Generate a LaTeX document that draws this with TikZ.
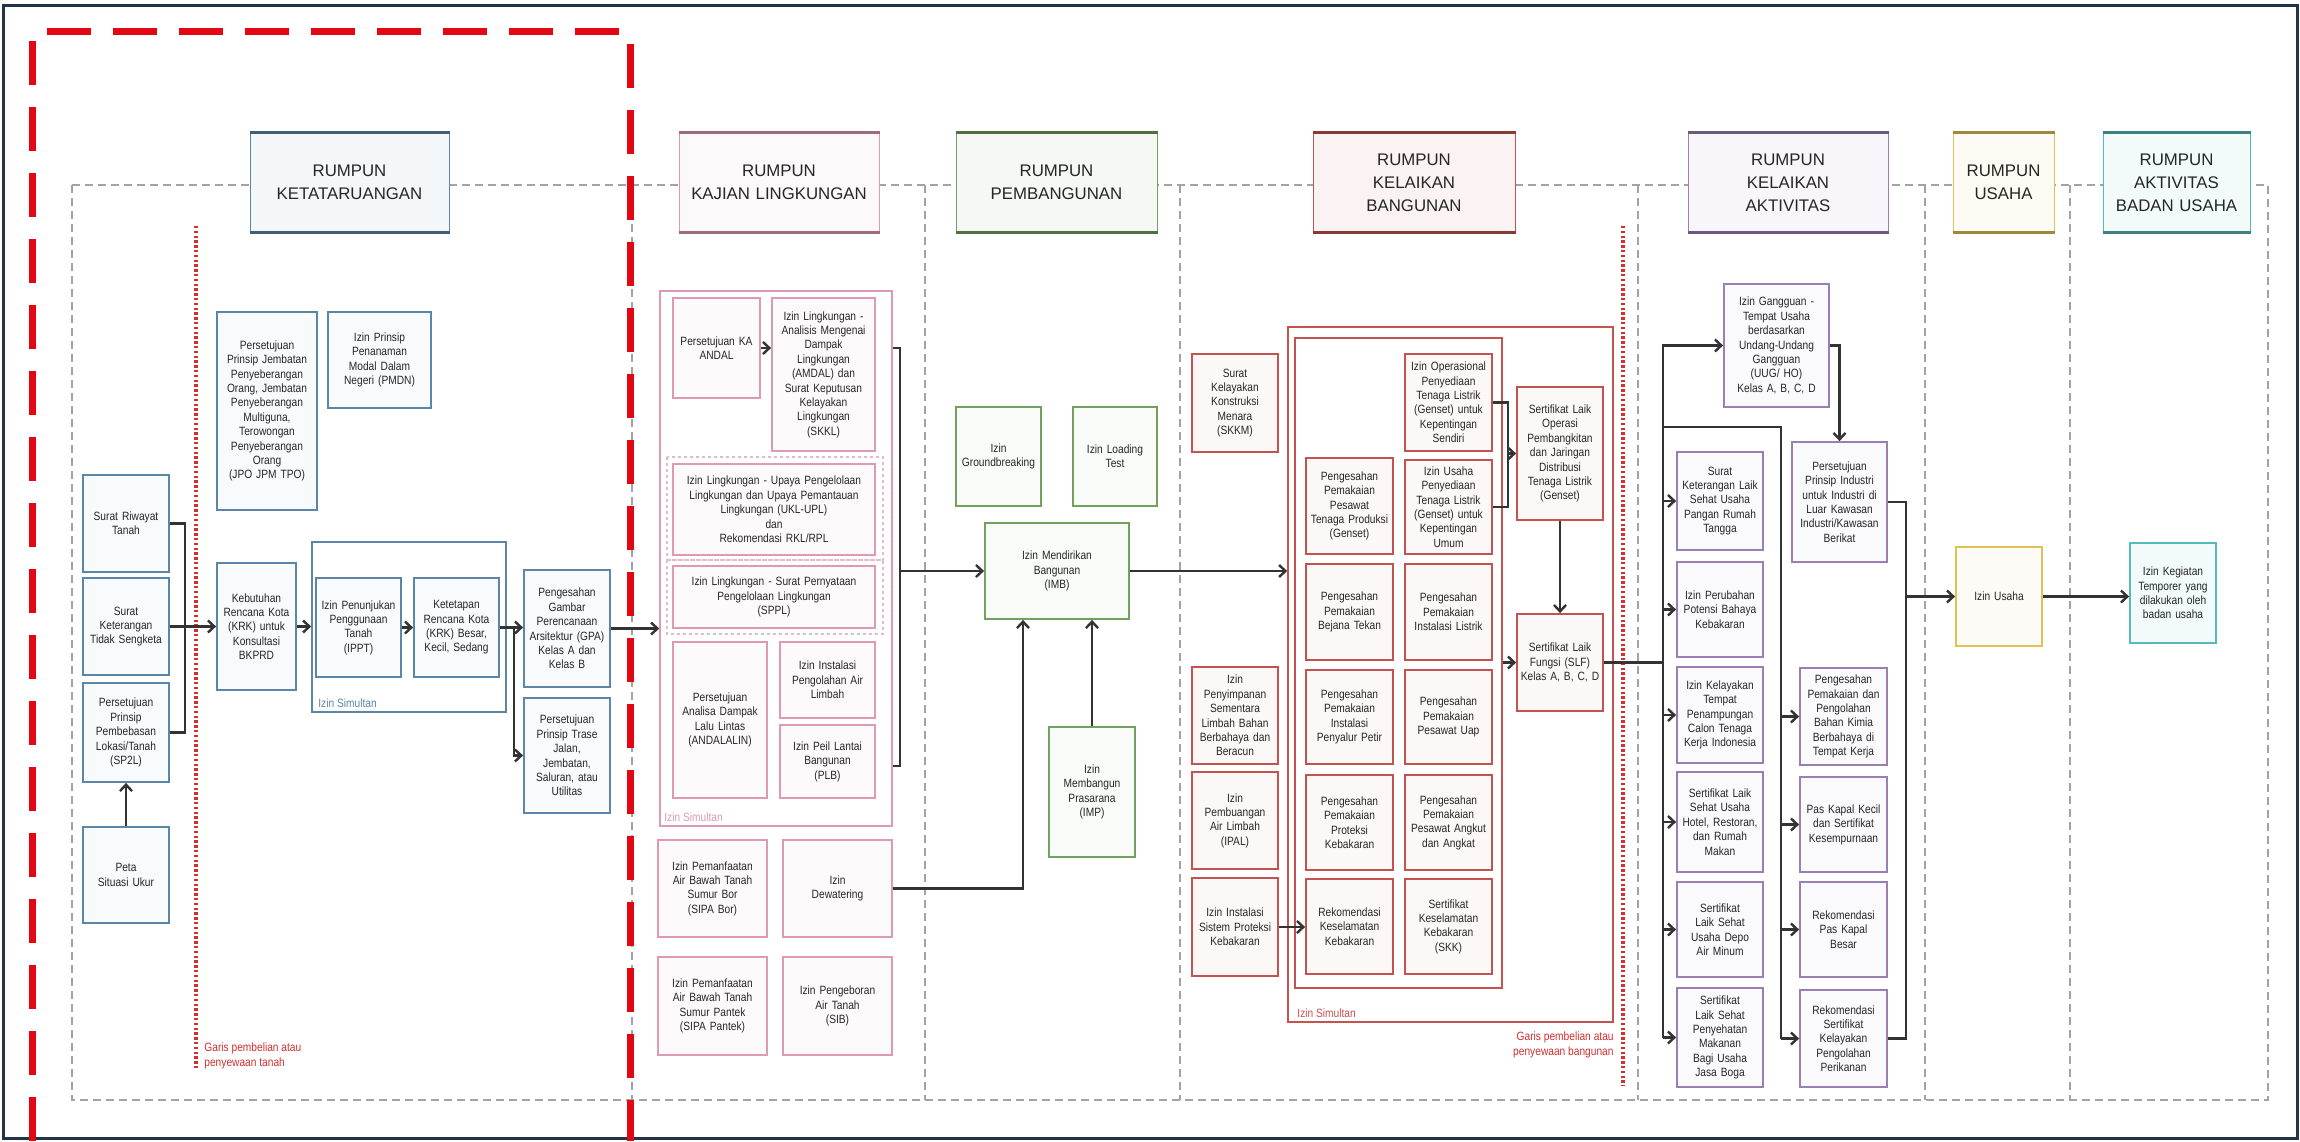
\documentclass[tikz,border=0pt]{standalone}
\usepackage{fontspec}
\setmainfont{Liberation Sans}
\newfontfamily\boxfont[FakeStretch=0.85]{Liberation Sans}
\usetikzlibrary{arrows.meta}

\definecolor{ketc}{HTML}{5B86A8}
\definecolor{kajc}{HTML}{DE9AB4}
\definecolor{pemc}{HTML}{72A05E}
\definecolor{banc}{HTML}{C4534F}
\definecolor{aktc}{HTML}{9A80B2}
\definecolor{usac}{HTML}{E2C256}
\definecolor{bdnc}{HTML}{55BABA}
\definecolor{framec}{HTML}{243447}
\definecolor{sepc}{HTML}{A3A3A3}
\definecolor{conc}{HTML}{333333}
\definecolor{dotc}{HTML}{D32F2F}
\definecolor{bigred}{HTML}{E30613}

% box with corner coordinates in pixel units: name, x1, y1, x2, y2, style, text
\newcommand\mkbox[7]{%
  \pgfmathsetmacro\mkbw{(#4-#2)*0.5}%
  \pgfmathsetmacro\mkbh{(#5-#3)*0.5}%
  \node[#6, minimum width=\mkbw pt, minimum height=\mkbh pt, text width=\mkbw pt]
    (#1) at ({(#2+#4)/2},{(#3+#5)/2}) {#7};}

% column header: name, x1, x2, colour, text
\newcommand\mkhdr[5]{%
  \pgfmathsetmacro\mkbw{(#3-#2)*0.5}%
  \node[hdr, draw=#4, fill=#4!7, minimum width=\mkbw pt, minimum height=49.5pt, text width=\mkbw pt]
    (#1) at ({(#2+#3)/2},182.5) {#5};
  \draw[line width=1.4pt, draw=#4!70!black] (#1.north west) -- (#1.north east)
        (#1.south west) -- (#1.south east);}

\tikzset{
  bx/.style={rectangle, line width=0.9pt, inner sep=0pt, align=center,
    font={\boxfont\fontsize{6}{7.2}\selectfont}, text=black!85},
  ket/.style={bx, draw=ketc, fill=ketc!4},
  kaj/.style={bx, draw=kajc, fill=kajc!5},
  pem/.style={bx, draw=pemc, fill=pemc!4},
  ban/.style={bx, draw=banc, fill=banc!4},
  akt/.style={bx, draw=aktc, fill=aktc!5},
  usa/.style={bx, draw=usac, fill=usac!6},
  bdn/.style={bx, draw=bdnc, fill=bdnc!7},
  grpket/.style={bx, draw=ketc, line width=0.8pt},
  grpkaj/.style={bx, draw=kajc, line width=0.8pt},
  grpban/.style={bx, draw=banc, line width=0.8pt},
  kajsub/.style={draw=kajc!70, line width=0.6pt, dash pattern=on 1.5pt off 1.5pt},
  hdr/.style={rectangle, line width=0.5pt, inner sep=0pt, align=center,
    font={\fontsize{8.4}{11.5}\selectfont}, text=black!85},
  con/.style={draw=conc, line width=1.2pt},
  arr/.style={con, -{Straight Barb[length=3.2pt,width=6pt]}},
  sep/.style={draw=sepc, line width=1.2pt, dash pattern=on 4pt off 2.5pt},
  rdot/.style={draw=dotc, line width=1.6pt, dash pattern=on 1.2pt off 1.2pt},
  rdash/.style={draw=bigred, line width=3.5pt, dash pattern=on 22pt off 11pt},
  glabel/.style={inner sep=0pt, font={\boxfont\fontsize{6}{7.2}\selectfont}},
  rlabel/.style={inner sep=0pt, text=dotc, font={\boxfont\fontsize{6}{7.4}\selectfont}}
}

\begin{document}
\begin{tikzpicture}[x=0.5pt, y=-0.5pt]
\useasboundingbox (0,0) rectangle (2300,1141);
\fill[white] (0,0) rectangle (2300,1141);
\draw[framec, line width=1.5pt] (3,5) rectangle (2297,1138);

% column separators
\draw[sep] (72,185) rectangle (2268,1100);
\foreach \sx in {632,925,1180,1638,1925,2070}
  \draw[sep] (\sx,185) -- (\sx,1100);

% purchase / lease lines
\draw[rdot] (196,226) -- (196,1068);
\draw[rdot] (1623,226) -- (1623,1086);
\node[rlabel, anchor=south west, align=left] (lbltanah) at (204,1069) {Garis pembelian atau\\penyewaan tanah};
\node[rlabel, anchor=south east, align=right] (lblbangunan) at (1614,1058) {Garis pembelian atau\\penyewaan bangunan};

% column headers
\mkhdr{hket}{250}{449}{ketc}{RUMPUN\\KETATARUANGAN}
\mkhdr{hkaj}{679}{879}{kajc}{RUMPUN\\KAJIAN LINGKUNGAN}
\mkhdr{hpem}{956}{1157}{pemc}{RUMPUN\\PEMBANGUNAN}
\mkhdr{hban}{1313}{1515}{banc}{RUMPUN\\KELAIKAN\\BANGUNAN}
\mkhdr{hakt}{1688}{1888}{aktc}{RUMPUN\\KELAIKAN\\AKTIVITAS}
\mkhdr{husa}{1953}{2054}{usac}{RUMPUN\\USAHA}
\mkhdr{hbdn}{2103}{2250}{bdnc}{RUMPUN\\AKTIVITAS\\BADAN USAHA}

% ---------- Rumpun Ketataruangan ----------
\mkbox{simket}{312}{542}{506}{712}{grpket}{}
\node[glabel, text=ketc, anchor=south west] (simketlbl) at (318,708) {Izin Simultan};
\mkbox{riwayat}{83}{475}{169}{572}{ket}{Surat Riwayat\\Tanah}
\mkbox{keterangan}{83}{578}{169}{675}{ket}{Surat\\Keterangan\\Tidak Sengketa}
\mkbox{sptl}{83}{683}{169}{782}{ket}{Persetujuan\\Prinsip\\Pembebasan\\Lokasi/Tanah\\(SP2L)}
\mkbox{peta}{83}{827}{169}{923}{ket}{Peta\\Situasi Ukur}
\mkbox{jpo}{217}{312}{317}{510}{ket}{Persetujuan\\Prinsip Jembatan\\Penyeberangan\\Orang, Jembatan\\Penyeberangan\\Multiguna,\\Terowongan\\Penyeberangan\\Orang\\(JPO JPM TPO)}
\mkbox{pmdn}{328}{312}{431}{408}{ket}{Izin Prinsip\\Penanaman\\Modal Dalam\\Negeri (PMDN)}
\mkbox{krkb}{217}{563}{296}{690}{ket}{Kebutuhan\\Rencana Kota\\(KRK) untuk\\Konsultasi\\BKPRD}
\mkbox{ippt}{316}{578}{401}{677}{ket}{Izin Penunjukan\\Penggunaan\\Tanah\\(IPPT)}
\mkbox{krkt}{414}{578}{499}{677}{ket}{Ketetapan\\Rencana Kota\\(KRK) Besar,\\Kecil, Sedang}
\mkbox{gpa}{524}{570}{610}{687}{ket}{Pengesahan\\Gambar\\Perencanaan\\Arsitektur (GPA)\\Kelas A dan\\Kelas B}
\mkbox{trase}{524}{698}{610}{813}{ket}{Persetujuan\\Prinsip Trase\\Jalan,\\Jembatan,\\Saluran, atau\\Utilitas}

% ---------- Rumpun Kajian Lingkungan ----------
\mkbox{kajg}{660}{291}{892}{826}{grpkaj}{}
\draw[kajsub] (667,457) rectangle (883,560);
\draw[kajsub] (667,560) rectangle (883,634);
\node[glabel, text=kajc, anchor=south west] (kajglbl) at (664,822) {Izin Simultan};
\mkbox{andal}{673}{298}{760}{398}{kaj}{Persetujuan KA\\ANDAL}
\mkbox{amdal}{772}{298}{875}{451}{kaj}{Izin Lingkungan -\\Analisis Mengenai\\Dampak\\Lingkungan\\(AMDAL) dan\\Surat Keputusan\\Kelayakan\\Lingkungan\\(SKKL)}
\mkbox{ukl}{673}{464}{875}{555}{kaj}{Izin Lingkungan - Upaya Pengelolaan\\Lingkungan dan Upaya Pemantauan\\Lingkungan (UKL-UPL)\\dan\\Rekomendasi RKL/RPL}
\mkbox{sppl}{673}{566}{875}{628}{kaj}{Izin Lingkungan - Surat Pernyataan\\Pengelolaan Lingkungan\\(SPPL)}
\mkbox{andalalin}{673}{642}{767}{798}{kaj}{Persetujuan\\Analisa Dampak\\Lalu Lintas\\(ANDALALIN)}
\mkbox{ipalk}{780}{642}{875}{718}{kaj}{Izin Instalasi\\Pengolahan Air\\Limbah}
\mkbox{plb}{780}{725}{875}{798}{kaj}{Izin Peil Lantai\\Bangunan\\(PLB)}
\mkbox{sipab}{658}{840}{767}{937}{kaj}{Izin Pemanfaatan\\Air Bawah Tanah\\Sumur Bor\\(SIPA Bor)}
\mkbox{dewat}{783}{840}{892}{937}{kaj}{Izin\\Dewatering}
\mkbox{sipap}{658}{957}{767}{1055}{kaj}{Izin Pemanfaatan\\Air Bawah Tanah\\Sumur Pantek\\(SIPA Pantek)}
\mkbox{sib}{783}{957}{892}{1055}{kaj}{Izin Pengeboran\\Air Tanah\\(SIB)}

% ---------- Rumpun Pembangunan ----------
\mkbox{ground}{956}{407}{1041}{506}{pem}{Izin\\Groundbreaking}
\mkbox{loadt}{1073}{407}{1157}{506}{pem}{Izin Loading\\Test}
\mkbox{imb}{985}{523}{1129}{619}{pem}{Izin Mendirikan\\Bangunan\\(IMB)}
\mkbox{imp}{1049}{727}{1135}{857}{pem}{Izin\\Membangun\\Prasarana\\(IMP)}

% ---------- Rumpun Kelaikan Bangunan ----------
\mkbox{bango}{1288}{327}{1613}{1022}{grpban}{}
\mkbox{bangi}{1295}{338}{1502}{988}{grpban}{}
\node[glabel, text=banc, anchor=south west] (bangolbl) at (1297,1018) {Izin Simultan};
\mkbox{skkm}{1192}{354}{1278}{452}{ban}{Surat\\Kelayakan\\Konstruksi\\Menara\\(SKKM)}
\mkbox{bthree}{1192}{667}{1278}{764}{ban}{Izin\\Penyimpanan\\Sementara\\Limbah Bahan\\Berbahaya dan\\Beracun}
\mkbox{ipal}{1192}{772}{1278}{869}{ban}{Izin\\Pembuangan\\Air Limbah\\(IPAL)}
\mkbox{ispk}{1192}{878}{1278}{976}{ban}{Izin Instalasi\\Sistem Proteksi\\Kebakaran}
\mkbox{genset}{1306}{458}{1393}{554}{ban}{Pengesahan\\Pemakaian\\Pesawat\\Tenaga Produksi\\(Genset)}
\mkbox{bejana}{1306}{564}{1393}{660}{ban}{Pengesahan\\Pemakaian\\Bejana Tekan}
\mkbox{petir}{1306}{670}{1393}{764}{ban}{Pengesahan\\Pemakaian\\Instalasi\\Penyalur Petir}
\mkbox{proteksi}{1306}{775}{1393}{870}{ban}{Pengesahan\\Pemakaian\\Proteksi\\Kebakaran}
\mkbox{rekkk}{1306}{879}{1393}{974}{ban}{Rekomendasi\\Keselamatan\\Kebakaran}
\mkbox{iop}{1405}{354}{1492}{451}{ban}{Izin Operasional\\Penyediaan\\Tenaga Listrik\\(Genset) untuk\\Kepentingan\\Sendiri}
\mkbox{ius}{1405}{460}{1492}{554}{ban}{Izin Usaha\\Penyediaan\\Tenaga Listrik\\(Genset) untuk\\Kepentingan\\Umum}
\mkbox{listrik}{1405}{564}{1492}{660}{ban}{Pengesahan\\Pemakaian\\Instalasi Listrik}
\mkbox{uap}{1405}{670}{1492}{764}{ban}{Pengesahan\\Pemakaian\\Pesawat Uap}
\mkbox{angkut}{1405}{775}{1492}{870}{ban}{Pengesahan\\Pemakaian\\Pesawat Angkut\\dan Angkat}
\mkbox{skk}{1405}{879}{1492}{974}{ban}{Sertifikat\\Keselamatan\\Kebakaran\\(SKK)}
\mkbox{slo}{1517}{387}{1603}{520}{ban}{Sertifikat Laik\\Operasi\\Pembangkitan\\dan Jaringan\\Distribusi\\Tenaga Listrik\\(Genset)}
\mkbox{slf}{1517}{614}{1603}{711}{ban}{Sertifikat Laik\\Fungsi (SLF)\\Kelas A, B, C, D}

% ---------- Rumpun Kelaikan Aktivitas ----------
\mkbox{gangguan}{1724}{284}{1829}{407}{akt}{Izin Gangguan -\\Tempat Usaha\\berdasarkan\\Undang-Undang\\Gangguan\\(UUG/ HO)\\Kelas A, B, C, D}
\mkbox{ppi}{1792}{442}{1887}{562}{akt}{Persetujuan\\Prinsip Industri\\untuk Industri di\\Luar Kawasan\\Industri/Kawasan\\Berikat}
\mkbox{skl}{1677}{452}{1763}{550}{akt}{Surat\\Keterangan Laik\\Sehat Usaha\\Pangan Rumah\\Tangga}
\mkbox{ippbk}{1677}{562}{1763}{657}{akt}{Izin Perubahan\\Potensi Bahaya\\Kebakaran}
\mkbox{tpc}{1677}{667}{1763}{763}{akt}{Izin Kelayakan\\Tempat\\Penampungan\\Calon Tenaga\\Kerja Indonesia}
\mkbox{hotel}{1677}{772}{1763}{872}{akt}{Sertifikat Laik\\Sehat Usaha\\Hotel, Restoran,\\dan Rumah\\Makan}
\mkbox{depo}{1677}{882}{1763}{977}{akt}{Sertifikat\\Laik Sehat\\Usaha Depo\\Air Minum}
\mkbox{boga}{1677}{988}{1763}{1087}{akt}{Sertifikat\\Laik Sehat\\Penyehatan\\Makanan\\Bagi Usaha\\Jasa Boga}
\mkbox{bkb}{1800}{668}{1887}{765}{akt}{Pengesahan\\Pemakaian dan\\Pengolahan\\Bahan Kimia\\Berbahaya di\\Tempat Kerja}
\mkbox{pkk}{1800}{777}{1887}{872}{akt}{Pas Kapal Kecil\\dan Sertifikat\\Kesempurnaan}
\mkbox{rpkb}{1800}{882}{1887}{977}{akt}{Rekomendasi\\Pas Kapal\\Besar}
\mkbox{rskpp}{1800}{990}{1887}{1087}{akt}{Rekomendasi\\Sertifikat\\Kelayakan\\Pengolahan\\Perikanan}

% ---------- Rumpun Usaha / Aktivitas Badan Usaha ----------
\mkbox{usaha}{1956}{547}{2042}{646}{usa}{Izin Usaha}
\mkbox{kegiatan}{2130}{543}{2216}{643}{bdn}{Izin Kegiatan\\Temporer yang\\dilakukan oleh\\badan usaha}

% ---------- connectors ----------
% land documents
\coordinate (rbT) at (185,523.5);
\coordinate (rbB) at (185,732.5);
\draw[con] (riwayat.east) -- (rbT) -- (rbB) -- (sptl.east);
\draw[arr] (keterangan.east) -- (krkb.west);
\draw[arr] (peta.north) -- (sptl.south);
\draw[arr] (krkb.east) -- (krkb.east -| simket.west);
\draw[arr] (ippt.east) -- (krkt.west);
\draw[arr] (krkt.east) -- (gpa.west |- krkt.east);
\coordinate (tbr) at (514,627.5);
\draw[arr] (tbr) |- (trase.west);
\draw[arr] (gpa.east) -- (gpa.east -| kajg.west);

% environment
\draw[arr] (andal.east) -- (andal.east -| amdal.west);
\coordinate (kbT) at (900,348);
\coordinate (kbB) at (900,766);
\draw[con] (kajg.east |- kbT) -- (kbT) -- (kbB) -- (kajg.east |- kbB);
\draw[arr] (imb.west -| kbT) -- (imb.west);
\draw[arr] (dewat.east) -| ([xshift=-17pt]imb.south);

% construction
\draw[arr] (imp.north) -- (imp.north |- imb.south);
\draw[arr] (imb.east) -- (imb.east -| bango.west);

% building feasibility
\coordinate (sbT) at (1508,402.5);
\coordinate (sbB) at (1508,507);
\draw[con] (iop.east) -- (sbT) -- (sbB) -- (ius.east);
\draw[arr] (slo.west -| sbT) -- (slo.west);
\draw[arr] (slo.south) -- (slf.north);
\draw[arr] (slf.west -| bangi.east) -- (slf.west);
\draw[arr] (ispk.east) -- (ispk.east -| rekkk.west);

% activity feasibility
\coordinate (aBot) at (1663,1037.5);
\draw[con] (slf.east) -- (slf.east -| aBot);
\draw[arr] (aBot) |- (gangguan.west);
\foreach \n in {skl,ippbk,tpc,hotel,depo,boga}
  \draw[arr] (\n.west -| aBot) -- (\n.west);
\coordinate (bJ) at (1663,427);
\coordinate (bBot) at (1781,1038.5);
\draw[con] (bJ) -| (bBot);
\foreach \n in {bkb,pkk,rpkb,rskpp}
  \draw[arr] (\n.west -| bBot) -- (\n.west);
\draw[arr] (gangguan.east) -| (ppi.north);
\coordinate (cBot) at (1906,1038.5);
\draw[con] (ppi.east) -| (cBot) -- (rskpp.east);
\draw[arr] (usaha.west -| cBot) -- (usaha.west);
\draw[arr] (usaha.east) -- (usaha.east -| kegiatan.west);

% highlighted land-use block
\draw[rdash, rounded corners=3pt] (32,1141) -- (32,31) -- (630,31) -- (630,1141);
\end{tikzpicture}
\end{document}
